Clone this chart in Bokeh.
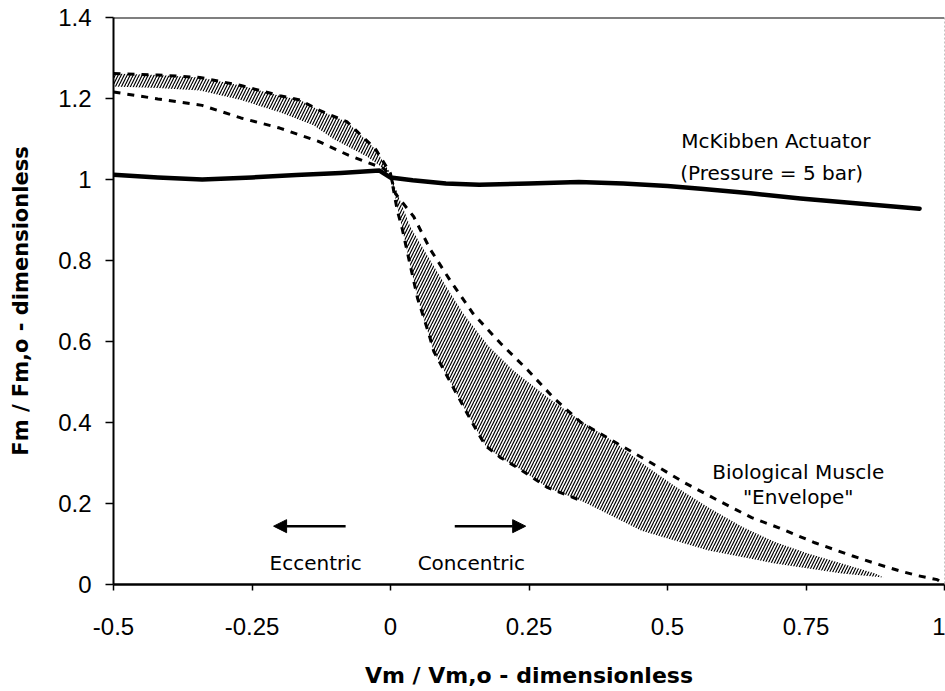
from bokeh.plotting import figure
from bokeh.models import FixedTicker, Label, Arrow, NormalHead, Span, Range1d
from bokeh.embed import file_html
from bokeh.resources import INLINE

# ---------------- data ----------------
x_ticks = [-0.5, -0.25, 0, 0.25, 0.5, 0.75, 1]
x_tick_labels = ["-0.5", "-0.25", "0", "0.25", "0.5", "0.75", "1"]
y_ticks = [0, 0.2, 0.4, 0.6, 0.8, 1, 1.2, 1.4]
y_tick_labels = ["0", "0.2", "0.4", "0.6", "0.8", "1", "1.2", "1.4"]

# McKibben actuator (pressure = 5 bar)
mck_x = [-0.5, -0.42, -0.34, -0.25, -0.17, -0.09, -0.02, 0.0, 0.04, 0.1, 0.16, 0.25,
         0.34, 0.42, 0.5, 0.56, 0.65, 0.74, 0.85, 0.955]
mck_y = [1.012, 1.005, 1.000, 1.005, 1.011, 1.016, 1.022, 1.005, 0.998, 0.990, 0.987, 0.990,
         0.994, 0.990, 0.984, 0.977, 0.966, 0.953, 0.940, 0.928]

# Envelope curve A (eccentric: lower dashed, concentric: outer dashed)
curve_a_x = [-0.5, -0.42, -0.34, -0.27, -0.2, -0.13, -0.076, -0.012, 0.0, 0.009, 0.042, 0.072,
             0.109, 0.149, 0.199, 0.248, 0.295, 0.344, 0.411, 0.471, 0.531, 0.592, 0.652,
             0.701, 0.766, 0.833, 0.875, 0.918, 0.951, 0.987, 1.0]
curve_a_y = [1.216, 1.199, 1.183, 1.152, 1.127, 1.094, 1.060, 1.027, 1.010, 0.965, 0.908, 0.827,
             0.748, 0.669, 0.595, 0.529, 0.460, 0.400, 0.347, 0.300, 0.251, 0.207, 0.165,
             0.140, 0.103, 0.071, 0.052, 0.034, 0.022, 0.012, 0.0]

# Envelope curve B (eccentric: upper dashed, concentric: inner dashed)
curve_b_x = [-0.5, -0.42, -0.344, -0.27, -0.2, -0.163, -0.127, -0.078, -0.027, 0.0, 0.012,
             0.021, 0.035, 0.049, 0.069, 0.078, 0.139, 0.158, 0.172, 0.199, 0.23, 0.284, 0.344]
curve_b_y = [1.262, 1.258, 1.252, 1.232, 1.207, 1.196, 1.170, 1.142, 1.075, 1.015, 0.925,
             0.879, 0.792, 0.706, 0.620, 0.576, 0.421, 0.374, 0.342, 0.313, 0.288, 0.239, 0.207]

# Hatched band, eccentric part (upper edge, then lower edge)
band_ecc_top_x = [-0.51, -0.42, -0.344, -0.27, -0.2, -0.163, -0.127, -0.078, -0.027, 0.0]
band_ecc_top_y = [1.262, 1.258, 1.252, 1.232, 1.207, 1.196, 1.170, 1.142, 1.075, 1.015]
band_ecc_bot_x = [-0.51, -0.42, -0.344, -0.27, -0.2, -0.139, -0.103, -0.042, 0.0]
band_ecc_bot_y = [1.230, 1.226, 1.220, 1.196, 1.166, 1.134, 1.100, 1.056, 1.015]

# Hatched band, concentric part (upper edge, then lower edge)
band_con_top_x = [0.0, 0.036, 0.072, 0.103, 0.132, 0.176, 0.223, 0.284, 0.344, 0.404, 0.46,
                  0.513, 0.574, 0.634, 0.694, 0.755, 0.815, 0.875, 0.89]
band_con_top_y = [1.010, 0.883, 0.800, 0.730, 0.668, 0.590, 0.527, 0.462, 0.404, 0.352, 0.294,
                  0.243, 0.190, 0.143, 0.105, 0.076, 0.052, 0.027, 0.017]
band_con_bot_x = [0.0, 0.021, 0.049, 0.078, 0.139, 0.172, 0.199, 0.23, 0.284, 0.344, 0.453,
                  0.574, 0.694, 0.815, 0.89]
band_con_bot_y = [1.010, 0.879, 0.706, 0.576, 0.421, 0.342, 0.313, 0.288, 0.239, 0.207, 0.133,
                  0.084, 0.052, 0.027, 0.017]

# ---------------- figure ----------------
p = figure(width=945, height=691,
           x_range=Range1d(-0.5, 1.0), y_range=Range1d(0, 1.4),
           output_backend="svg", toolbar_location=None,
           min_border_left=113, min_border_right=1, min_border_top=17, min_border_bottom=107)
p.grid.visible = False
p.outline_line_color = None
p.background_fill_color = "white"

# hatched envelope
ecc_xs = band_ecc_top_x + band_ecc_bot_x[::-1]
ecc_ys = band_ecc_top_y + band_ecc_bot_y[::-1]
con_xs = band_con_top_x + band_con_bot_x[::-1]
con_ys = band_con_top_y + band_con_bot_y[::-1]
p.patches(xs=[ecc_xs, con_xs], ys=[ecc_ys, con_ys],
          fill_color="white", fill_alpha=0.0, line_color=None,
          hatch_pattern="/", hatch_color="black", hatch_scale=6, hatch_weight=1.2)

# dashed envelope curves
p.line(curve_a_x, curve_a_y, line_color="black", line_width=3, line_dash="7 7")
p.line(curve_b_x, curve_b_y, line_color="black", line_width=3, line_dash="7 7")

# McKibben actuator
p.line(mck_x, mck_y, line_color="black", line_width=4.5, line_join="round", line_cap="round")

# frame pieces
p.add_layout(Span(location=1.4, dimension="width", line_color="black", line_width=2))
p.add_layout(Span(location=1.0, dimension="height", line_color="#888888", line_width=1,
                  line_dash="2 2"))

# arrows
p.add_layout(Arrow(end=NormalHead(size=13, fill_color="black", line_color="black"),
                   x_start=-0.081, y_start=0.144, x_end=-0.211, y_end=0.144,
                   line_color="black", line_width=2.5))
p.add_layout(Arrow(end=NormalHead(size=13, fill_color="black", line_color="black"),
                   x_start=0.116, y_start=0.144, x_end=0.244, y_end=0.144,
                   line_color="black", line_width=2.5))

# annotations
ann_font = "DejaVu Sans"
for (tx, ty, txt, al) in [
    (0.525, 1.096, "McKibben Actuator", "left"),
    (0.523, 1.015, "(Pressure = 5 bar)", "left"),
    (0.736, 0.279, "Biological Muscle", "center"),
    (0.736, 0.215, "\"Envelope\"", "center"),
    (-0.135, 0.054, "Eccentric", "center"),
    (0.146, 0.054, "Concentric", "center"),
]:
    p.add_layout(Label(x=tx, y=ty, text=txt, text_align=al, text_baseline="middle",
                       text_font=ann_font, text_font_size="20px", text_color="black"))

# axes
p.xaxis.ticker = FixedTicker(ticks=x_ticks)
p.xaxis.major_label_overrides = dict(zip(x_ticks, x_tick_labels))
p.yaxis.ticker = FixedTicker(ticks=y_ticks)
p.yaxis.major_label_overrides = dict(zip(y_ticks, y_tick_labels))

for ax in (p.xaxis, p.yaxis):
    ax.minor_tick_line_color = None
    ax.major_tick_in = 0
    ax.axis_line_color = "black"
    ax.major_tick_line_color = "black"
    ax.major_tick_line_width = 1.5
    ax.major_label_text_font = "Liberation Sans"
    ax.major_label_text_font_size = "24px"
    ax.major_label_text_color = "black"
    ax.axis_label_text_font = "DejaVu Sans"
    ax.axis_label_text_font_style = "bold"
    ax.axis_label_text_color = "black"

p.xaxis.axis_label = "Vm / Vm,o - dimensionless"
p.xaxis.axis_label_text_font_size = "22px"
p.xaxis.axis_line_width = 2.5
p.xaxis.major_tick_out = 6
p.xaxis.major_label_standoff = 27
p.xaxis.axis_label_standoff = 25

p.yaxis.axis_label = "Fm / Fm,o - dimensionless"
p.yaxis.axis_label_text_font_size = "21px"
p.yaxis.axis_line_width = 2
p.yaxis.major_tick_out = 8
p.yaxis.major_label_standoff = 14
p.yaxis.axis_label_standoff = 22

open("out.html", "w").write(file_html(p, INLINE))
